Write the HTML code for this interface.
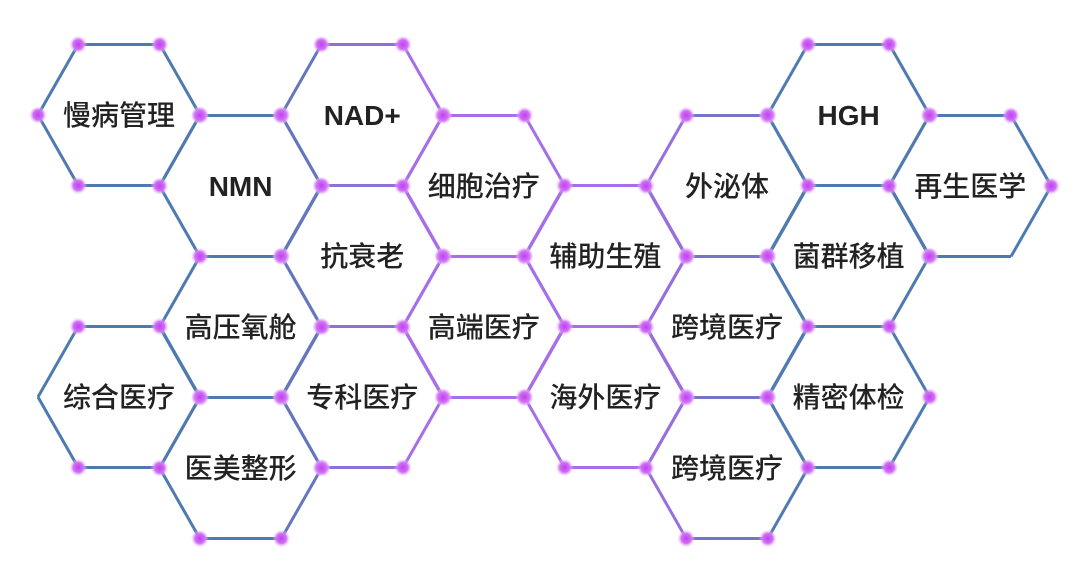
<!DOCTYPE html>
<html><head><meta charset="utf-8">
<style>
html,body{margin:0;padding:0;background:#fff;}
svg{display:block;}
text{font-family:"Liberation Sans","Noto Sans CJK SC",sans-serif;fill:#222;}
</style></head>
<body>
<svg id="s" width="1080" height="576" viewBox="0 0 1080 576" xmlns="http://www.w3.org/2000/svg">
<defs>
<radialGradient id="dg">
<stop offset="0" stop-color="#c040f0"/>
<stop offset="0.55" stop-color="#d070f5"/>
<stop offset="1" stop-color="#f0d0fb" stop-opacity="0"/>
</radialGradient>
</defs>
<g id="edges"></g>
<g id="dots"></g>
<g id="labels"></g>
</svg>
<script>
var NS="http://www.w3.org/2000/svg";
var cells=[
[0,115,"慢病管理",0],[1,186,"NMN",1],[2,115,"NAD+",1],[2,256,"抗衰老",0],
[3,186,"细胞治疗",0],[1,327,"高压氧舱",0],[0,397,"综合医疗",0],[2,397,"专科医疗",0],
[1,468,"医美整形",0],[3,327,"高端医疗",0],[4,256,"辅助生殖",0],[4,397,"海外医疗",0],
[5,186,"外泌体",0],[5,327,"跨境医疗",0],[5,468,"跨境医疗",0],[6,115,"HGH",1],
[6,256,"菌群移植",0],[6,397,"精密体检",0],[7,186,"再生医学",0]];
var edges={},verts={};
var SP=121.6,HW=40.8,FW=81;
function key(x,y){return Math.round(x)+","+Math.round(y);}
function col(x){
 var b=[79,122,176],p=[166,110,232],t;
 if(x<270)t=0;else if(x<400)t=(x-270)/130;else if(x<640)t=1;else if(x<790)t=1-(x-640)/150;else t=0;
 return "rgb("+[0,1,2].map(function(i){return Math.round(b[i]+(p[i]-b[i])*t)}).join(",")+")";
}
cells.forEach(function(c){
 var cx=119+SP*c[0],cy=c[1];
 var v=[[cx-HW,cy-70.5],[cx+HW,cy-70.5],[cx+FW,cy],[cx+HW,cy+70.5],[cx-HW,cy+70.5],[cx-FW,cy]];
 for(var i=0;i<6;i++){
  var a=v[i],b=v[(i+1)%6];
  var k1=key(a[0],a[1]),k2=key(b[0],b[1]);
  var k=k1<k2?k1+"|"+k2:k2+"|"+k1;
  edges[k]=[a,b];verts[k1]=a;verts[k2]=b;
 }
 var t=document.createElementNS(NS,"text");
 t.setAttribute("x",cx);t.setAttribute("y",cy+10);
 t.setAttribute("text-anchor","middle");
 t.setAttribute("font-size",c[3]?"28":"28");
 t.setAttribute("font-weight",c[3]?"bold":"500");
 t.textContent=c[2];
 document.getElementById("labels").appendChild(t);
});
var eg=document.getElementById("edges");
for(var k in edges){
 var e=edges[k],l=document.createElementNS(NS,"line");
 l.setAttribute("x1",e[0][0]);l.setAttribute("y1",e[0][1]);
 l.setAttribute("x2",e[1][0]);l.setAttribute("y2",e[1][1]);
 l.setAttribute("stroke",col((e[0][0]+e[1][0])/2));
 l.setAttribute("stroke-width","3");
 eg.appendChild(l);
}
var dg=document.getElementById("dots");
for(var k in verts){
 var v=verts[k];
 if(v[0]<45&&Math.abs(v[1]-397)<2)continue;
 if(v[0]>995&&v[0]<1020&&Math.abs(v[1]-256)<2)continue;
 var c1=document.createElementNS(NS,"circle");
 c1.setAttribute("cx",v[0]);c1.setAttribute("cy",v[1]);c1.setAttribute("r","9");
 c1.setAttribute("fill","url(#dg)");dg.appendChild(c1);
}
</script>
</body></html>
